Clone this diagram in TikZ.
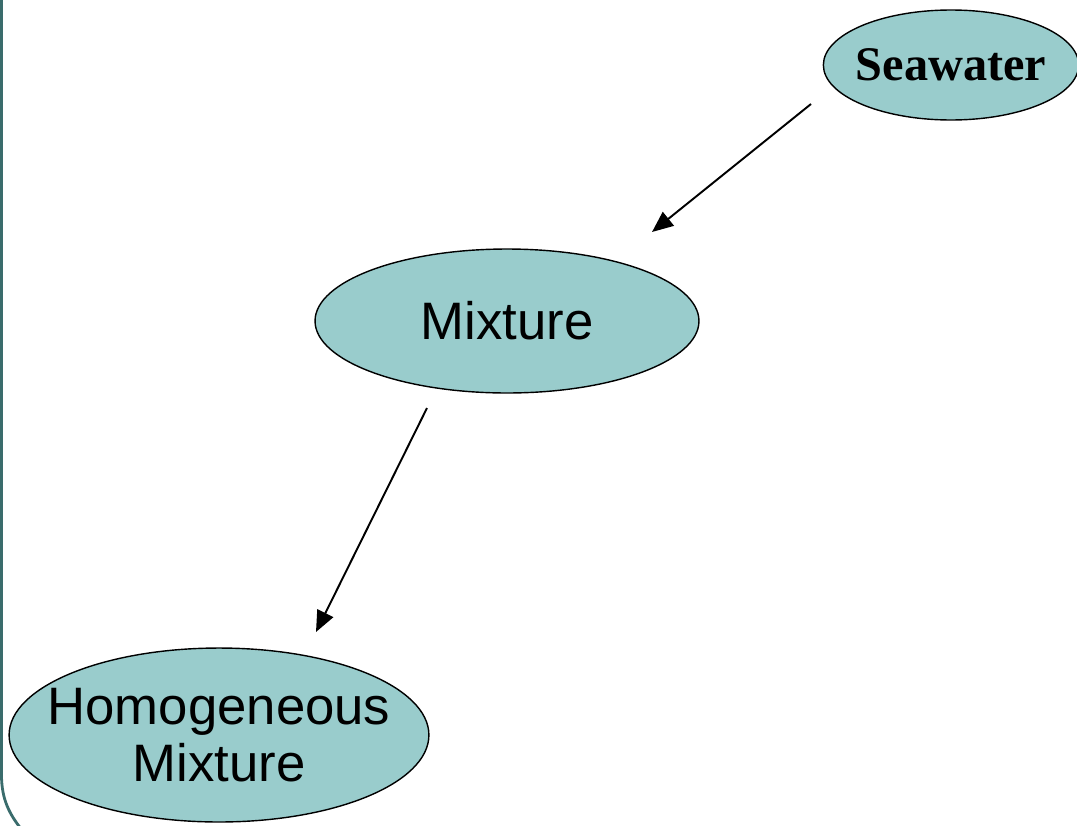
\documentclass[tikz,border=0pt]{standalone}
\usepackage{fontspec}
\setmainfont{Liberation Sans}
\newfontfamily\timesfont{Liberation Serif}
\usepackage{tikz}
\usetikzlibrary{arrows.meta, positioning, shapes}
\definecolor{my_teal}{RGB}{153, 204, 204}
\definecolor{my_border}{RGB}{58, 108, 108}
\tikzset {
  concept/.style = {draw, line width=0.8pt, ellipse, fill=my_teal, text centered, inner sep=0pt},
  line/.style = {-{Triangle[length=12pt, width=10pt]}, line width=1.1pt, color=black},
  edge/.style = {line width=1.6pt, color=my_border}
}

\begin{document}
\begin{tikzpicture}[x=0.02cm, y=-0.02cm]
    \useasboundingbox (0,0) rectangle (1077,825);
    % slide border on the left
    \draw[edge] (1.5,-5) -- (1.5,775) .. controls (1.5,800) and (10,815) .. (22,830);

    \node[concept, name=sea, inner xsep=-0.1cm, minimum width=4.96cm, minimum height=2.2cm, font=\timesfont\bfseries\fontsize{27.5}{30}\selectfont] (sea) at (951,65) {Seawater};
    \node[concept, name=mix, minimum width=7.68cm, minimum height=2.88cm, font=\fontsize{30}{32}\selectfont] (mix) at (507,321) {Mixture};
    \node[concept, name=homo, inner xsep=-0.46cm, minimum width=8.3cm, minimum height=3.48cm, align=center, font=\fontsize{30}{32}\selectfont] (homo) at (219,735) {Homogeneous\\Mixture};

    \coordinate (sea-out) at (811,104);
    \coordinate (mix-in) at (652,232);
    \coordinate (mix-out) at (427,408);
    \coordinate (homo-in) at (316,632);

    \draw[line] (sea-out) -- (mix-in);
    \draw[line] (mix-out) -- (homo-in);
\end{tikzpicture}
\end{document}
